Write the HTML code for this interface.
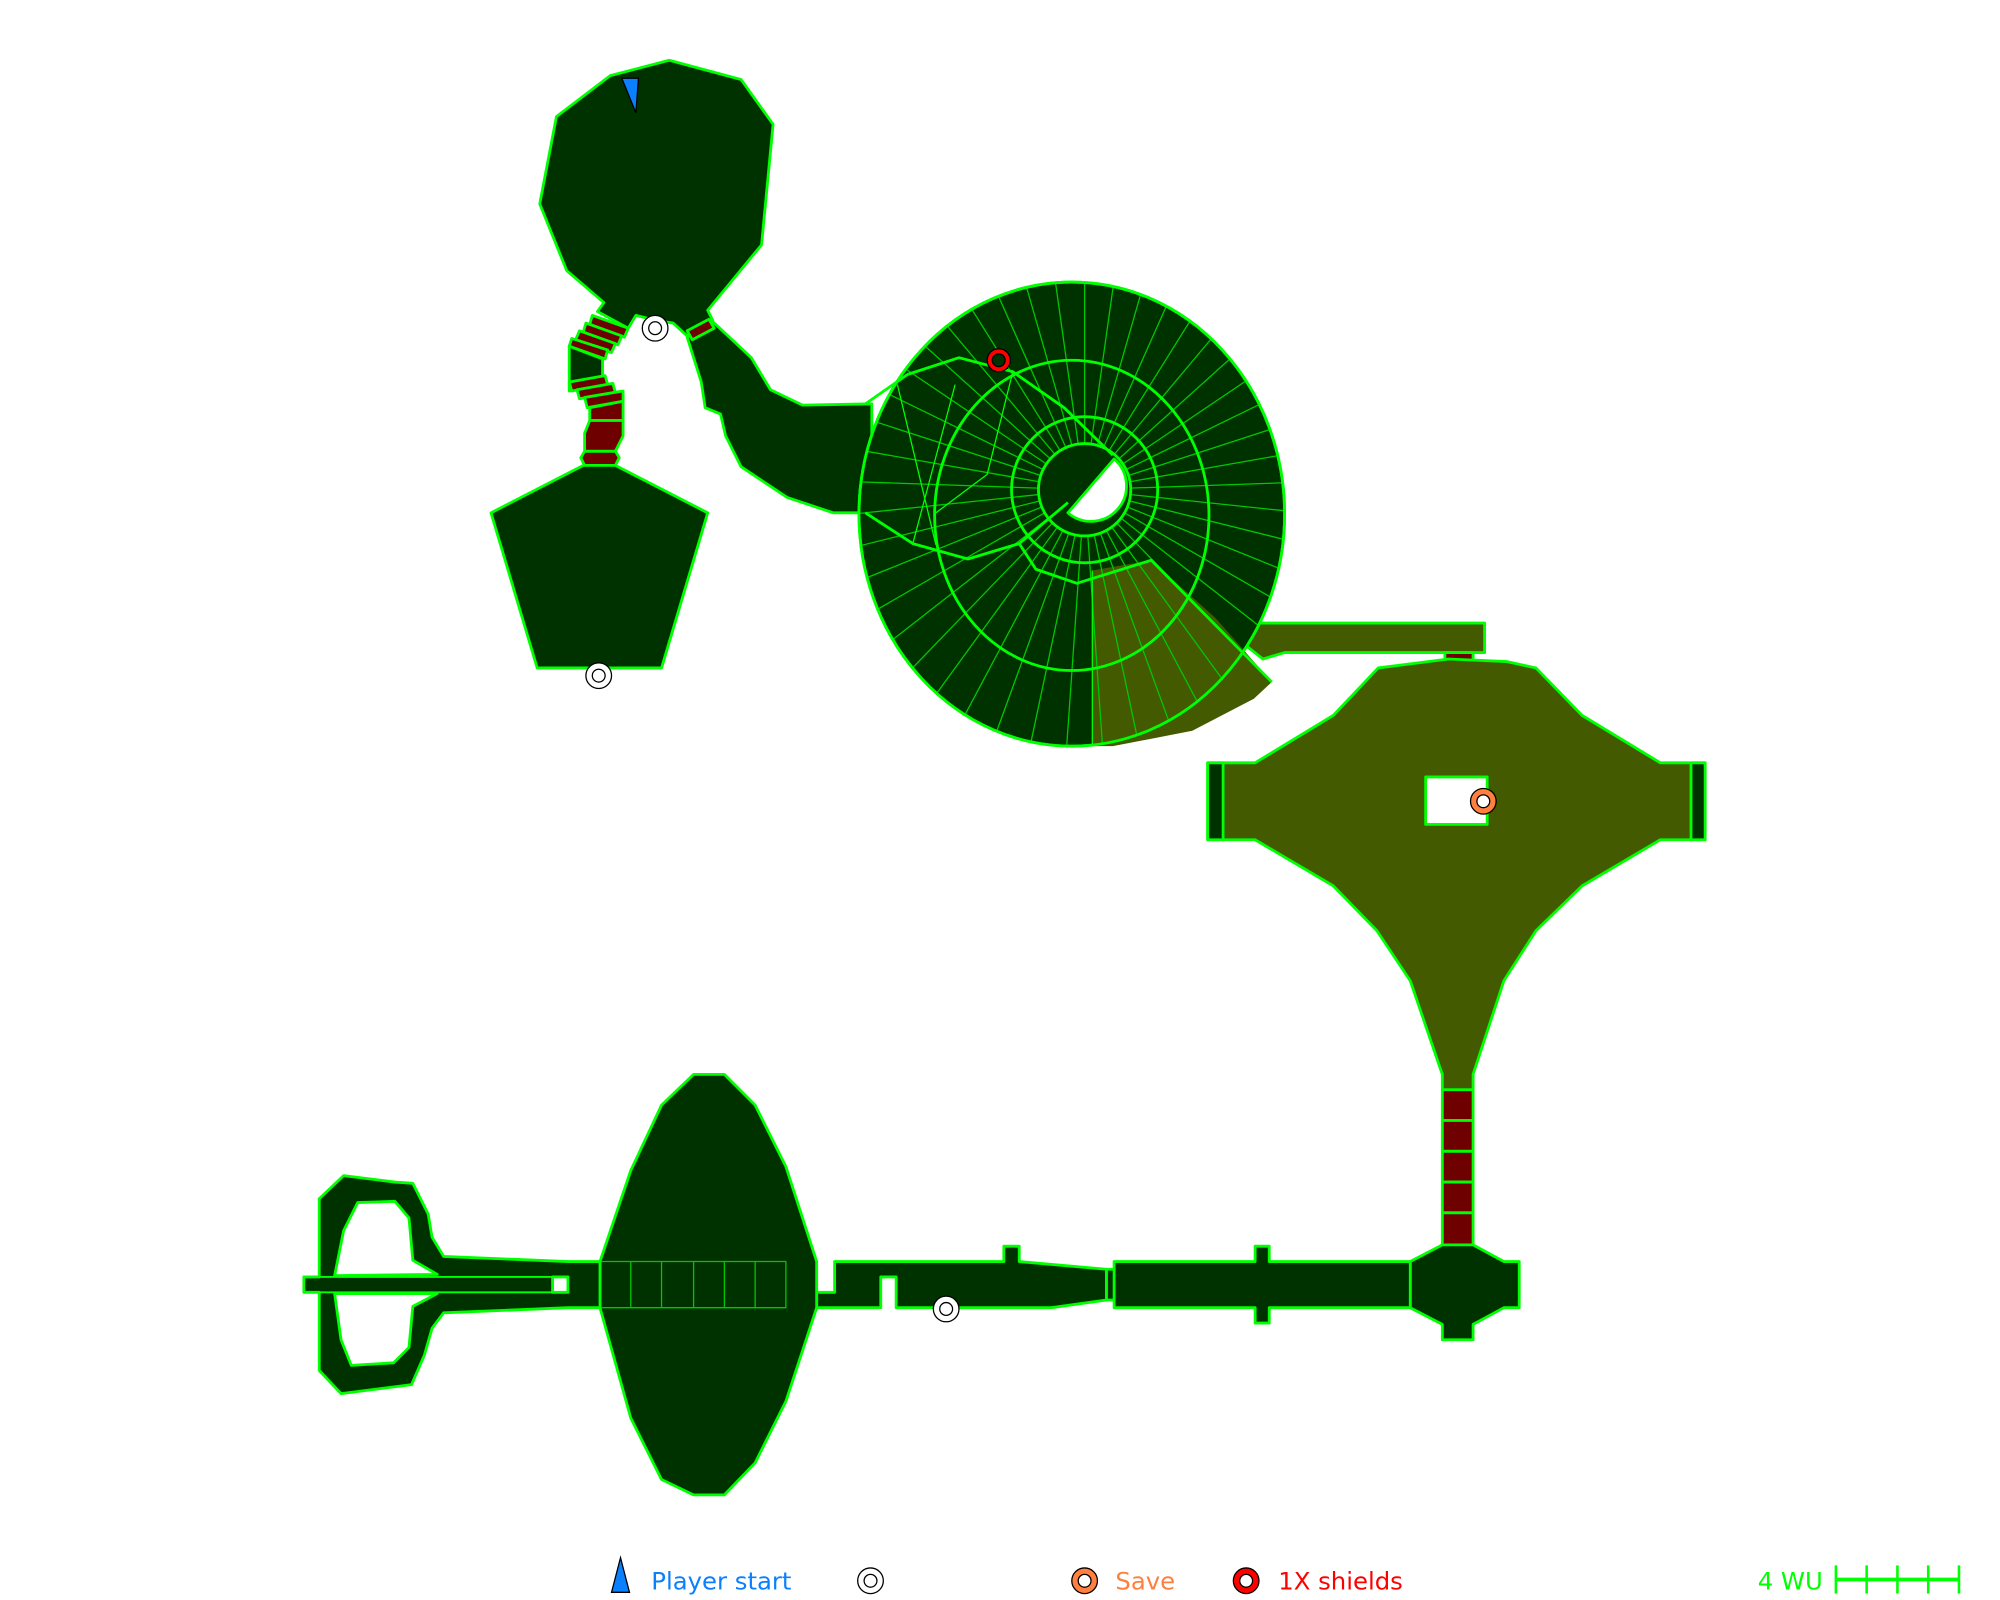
<!DOCTYPE html>
<html><head><meta charset="utf-8"><style>
html,body{margin:0;padding:0;background:#fff;}
svg{display:block;}
text{font-family:"DejaVu Sans","Liberation Sans",sans-serif;}
</style></head><body>
<svg width="2000" height="1600" viewBox="0 0 1560 1248" xmlns="http://www.w3.org/2000/svg">
<defs>
<clipPath id="disk"><ellipse cx="836" cy="401" rx="166" ry="181"/></clipPath>
<line id="rl" x1="846" y1="382" x2="846" y2="180" stroke="#00c800" stroke-width="1"/>
</defs>
<g stroke="#00ff00" stroke-width="2.2" stroke-linejoin="round">
<!-- top room -->
<polygon fill="#003200" points="476,59 522,47 578,62 603,97 594,191 552,242 556,250 536,262 525,252 512,250 496,246 490,256 466,243 471,236 442,211 421,159 434,91"/>
<!-- corridor to spiral -->
<polygon fill="#003200" points="536,263 555,250 586,279 601,304 626,316 680,315 680,400 650,400 614,388 578,364 566,340 562,323 550,318 547,298"/>
<polygon fill="#6e0000" points="536,258 553,249 557,256 540,265"/>
<!-- stairs left -->
<polygon fill="#6e0000" points="462,246 490,256 487,263 460,253"/>
<polygon fill="#6e0000" points="457,252 485,262 482,269 455,259"/>
<polygon fill="#6e0000" points="452,258 480,268 477,275 449,265"/>
<polygon fill="#6e0000" points="446,264 474,273 472,280 444,270"/>
<polygon fill="#003200" points="444,270 470,280 470,300 444,305"/>
<polygon fill="#6e0000" points="444,298 472,293 474,300 446,305"/>
<polygon fill="#6e0000" points="450,304 478,299 480,306 452,311"/>
<polygon fill="#6e0000" points="456,310 486,305 486,313 458,318"/>
<polygon fill="#6e0000" points="460,318 486,313 486,328 460,328"/>
<polygon fill="#6e0000" points="460,328 486,328 486,340 480,352 456,352 456,338"/>
<polygon fill="#6e0000" points="456,352 480,352 483,357 480,363 456,363 453,357"/>
<!-- pentagon -->
<polygon fill="#003200" points="455,363 480,363 552,400 516,521 419,521 383,400"/>
<!-- olive corridor top -->
<polygon fill="#445a00" points="965,498 978,486 1158,486 1158,509 1002,509 985,514"/>
<rect x="1127" y="509" width="22" height="6" fill="#6e0000"/>
<!-- spiral -->
<ellipse cx="836" cy="401" rx="166" ry="181" fill="#003200"/>
<path d="M852,445 L898,437 L948,482 L992,532 L978,545 L930,570 L868,582 L852,582 Z" fill="#445a00" stroke="none"/>
<g clip-path="url(#disk)">
<use href="#rl" transform="rotate(0 846 382)"/><use href="#rl" transform="rotate(8 846 382)"/><use href="#rl" transform="rotate(16 846 382)"/><use href="#rl" transform="rotate(24 846 382)"/><use href="#rl" transform="rotate(32 846 382)"/><use href="#rl" transform="rotate(40 846 382)"/><use href="#rl" transform="rotate(48 846 382)"/><use href="#rl" transform="rotate(56 846 382)"/><use href="#rl" transform="rotate(64 846 382)"/><use href="#rl" transform="rotate(72 846 382)"/><use href="#rl" transform="rotate(80 846 382)"/><use href="#rl" transform="rotate(88 846 382)"/><use href="#rl" transform="rotate(96 846 382)"/><use href="#rl" transform="rotate(104 846 382)"/><use href="#rl" transform="rotate(112 846 382)"/><use href="#rl" transform="rotate(120 846 382)"/><use href="#rl" transform="rotate(128 846 382)"/><use href="#rl" transform="rotate(136 846 382)"/><use href="#rl" transform="rotate(144 846 382)"/><use href="#rl" transform="rotate(152 846 382)"/><use href="#rl" transform="rotate(160 846 382)"/><use href="#rl" transform="rotate(168 846 382)"/><use href="#rl" transform="rotate(176 846 382)"/><use href="#rl" transform="rotate(184 846 382)"/><use href="#rl" transform="rotate(192 846 382)"/><use href="#rl" transform="rotate(200 846 382)"/><use href="#rl" transform="rotate(208 846 382)"/><use href="#rl" transform="rotate(216 846 382)"/><use href="#rl" transform="rotate(224 846 382)"/><use href="#rl" transform="rotate(232 846 382)"/><use href="#rl" transform="rotate(240 846 382)"/><use href="#rl" transform="rotate(248 846 382)"/><use href="#rl" transform="rotate(256 846 382)"/><use href="#rl" transform="rotate(264 846 382)"/><use href="#rl" transform="rotate(272 846 382)"/><use href="#rl" transform="rotate(280 846 382)"/><use href="#rl" transform="rotate(288 846 382)"/><use href="#rl" transform="rotate(296 846 382)"/><use href="#rl" transform="rotate(304 846 382)"/><use href="#rl" transform="rotate(312 846 382)"/><use href="#rl" transform="rotate(320 846 382)"/><use href="#rl" transform="rotate(328 846 382)"/><use href="#rl" transform="rotate(336 846 382)"/><use href="#rl" transform="rotate(344 846 382)"/><use href="#rl" transform="rotate(352 846 382)"/>
</g>
<ellipse cx="836" cy="401" rx="166" ry="181" fill="none"/>
<line x1="852" y1="445" x2="852" y2="582" stroke-width="1"/>
<ellipse cx="836" cy="402" rx="107" ry="121" fill="none"/>
<circle cx="846" cy="382" r="57" fill="none"/>
<circle cx="846" cy="382" r="36" fill="#003200"/>
<path d="M869,358 A26,26 0 1 1 833,400 Z" fill="#fff"/>
<path d="M675,315 L708,292 L748,279 L790,290 L830,318 L868,355" fill="none"/>
<path d="M675,400 L712,424 L755,436 L795,424 L833,392" fill="none"/>
<path d="M795,424 L808,444 L840,455 L898,437 L992,532" fill="none"/>
<path d="M700,300 L730,425 M745,300 L712,424 M790,290 L770,370 L730,400" fill="none" stroke-width="1"/>
<!-- olive room -->
<polygon fill="#445a00" points="1075,521 1130,514 1175,516 1198,521 1234,558 1295,595 1330,595 1330,655 1295,655 1234,691 1198,726 1173,765 1149,838 1149,850 1125,850 1125,838 1100,765 1074,726 1040,691 979,655 942,655 942,595 979,595 1040,558"/>
<rect x="942" y="595" width="12" height="60" fill="#003200"/>
<rect x="1319" y="595" width="11" height="60" fill="#003200"/>
<rect x="1112" y="606" width="48" height="37" fill="#fff"/>
<rect x="1125" y="850" width="24" height="24" fill="#6e0000"/>
<rect x="1125" y="874" width="24" height="24" fill="#6e0000"/>
<rect x="1125" y="898" width="24" height="24" fill="#6e0000"/>
<rect x="1125" y="922" width="24" height="24" fill="#6e0000"/>
<rect x="1125" y="946" width="24" height="25" fill="#6e0000"/>
<!-- bottom structure -->
<polygon fill="#003200" points="1100,984 1125,971 1149,971 1173,984 1185,984 1185,1020 1173,1020 1149,1033 1149,1045 1125,1045 1125,1033 1100,1020"/>
<polygon fill="#003200" points="869,984 979,984 979,972 990,972 990,984 1100,984 1100,1020 990,1020 990,1032 979,1032 979,1020 869,1020"/>
<rect x="863" y="990" width="6" height="24" fill="#003200"/>
<polygon fill="#003200" points="651,984 783,984 783,972 795,972 795,984 863,990 863,1014 820,1020 699,1020 699,996 687,996 687,1020 637,1020 637,1008 651,1008"/>
<polygon fill="#003200" points="541,838 565,838 589,862 613,910 637,984 637,1020 613,1093 589,1141 565,1166 541,1166 516,1154 492,1106 468,1020 468,984 492,913 516,862"/>
<g stroke-width="1" stroke="#00c800" fill="none">
<rect x="468" y="984" width="145" height="36"/>
<line x1="492" y1="984" x2="492" y2="1020"/><line x1="516" y1="984" x2="516" y2="1020"/><line x1="541" y1="984" x2="541" y2="1020"/><line x1="565" y1="984" x2="565" y2="1020"/><line x1="589" y1="984" x2="589" y2="1020"/>
</g>
<path fill="#003200" fill-rule="evenodd" d="M249,935 L268,917 L308,922 L322,923 L334,947 L337,965 L346,980 L443,984 L468,984 L468,1020 L443,1020 L346,1024 L337,1036 L331,1057 L321,1080 L266,1087 L249,1069 L249,1008 L237,1008 L237,996 L249,996 Z M279,938 L308,937 L319,950 L322,983 L341,994 L261,995 L268,960 Z M261,1009 L341,1009 L322,1019 L319,1051 L307,1063 L274,1065 L266,1045 Z"/>
<line x1="237" y1="996" x2="443" y2="996" stroke-width="1.5"/>
<line x1="237" y1="1008" x2="443" y2="1008" stroke-width="1.5"/>
<rect x="431" y="996" width="12" height="12" fill="#fff"/>
</g>
<!-- markers -->
<g stroke="#000" stroke-width="1">
<circle cx="511" cy="256" r="10" fill="#fff"/><circle cx="511" cy="256" r="5" fill="none"/>
<circle cx="467" cy="527" r="10" fill="#fff"/><circle cx="467" cy="527" r="5" fill="none"/>
<circle cx="738" cy="1021" r="10" fill="#fff"/><circle cx="738" cy="1021" r="5" fill="none"/>
<circle cx="779" cy="281" r="9" fill="#f00"/><circle cx="779" cy="281" r="5" fill="#003200"/>
<circle cx="1157" cy="625" r="10" fill="#ff8040"/><circle cx="1157" cy="625" r="5" fill="#fff"/>
<polygon points="485,61 498,61 496,88" fill="#0a80ff"/>
<!-- legend -->
<polygon points="484,1215 491,1242 477,1242" fill="#0a80ff"/>
<circle cx="679" cy="1233" r="10" fill="#fff"/><circle cx="679" cy="1233" r="5" fill="#fff"/>
<circle cx="846" cy="1233" r="10" fill="#ff8040"/><circle cx="846" cy="1233" r="5" fill="#fff"/>
<circle cx="972" cy="1233" r="10" fill="#f00"/><circle cx="972" cy="1233" r="5" fill="#fff"/>
</g>
<g font-size="19">
<text x="508" y="1240" fill="#0a80ff">Player start</text>
<text x="870" y="1240" fill="#ff7f3f">Save</text>
<text x="997" y="1240" fill="#f00">1X shields</text>
<text x="1371" y="1240" fill="#00ff00">4 WU</text>
</g>
<g stroke="#00ff00" stroke-width="2">
<line x1="1432" y1="1232" x2="1528" y2="1232" stroke-width="3"/>
<line x1="1432" y1="1221" x2="1432" y2="1243"/><line x1="1456" y1="1221" x2="1456" y2="1243"/><line x1="1480" y1="1221" x2="1480" y2="1243"/><line x1="1504" y1="1221" x2="1504" y2="1243"/><line x1="1528" y1="1221" x2="1528" y2="1243"/>
</g>
</svg>
</body></html>
